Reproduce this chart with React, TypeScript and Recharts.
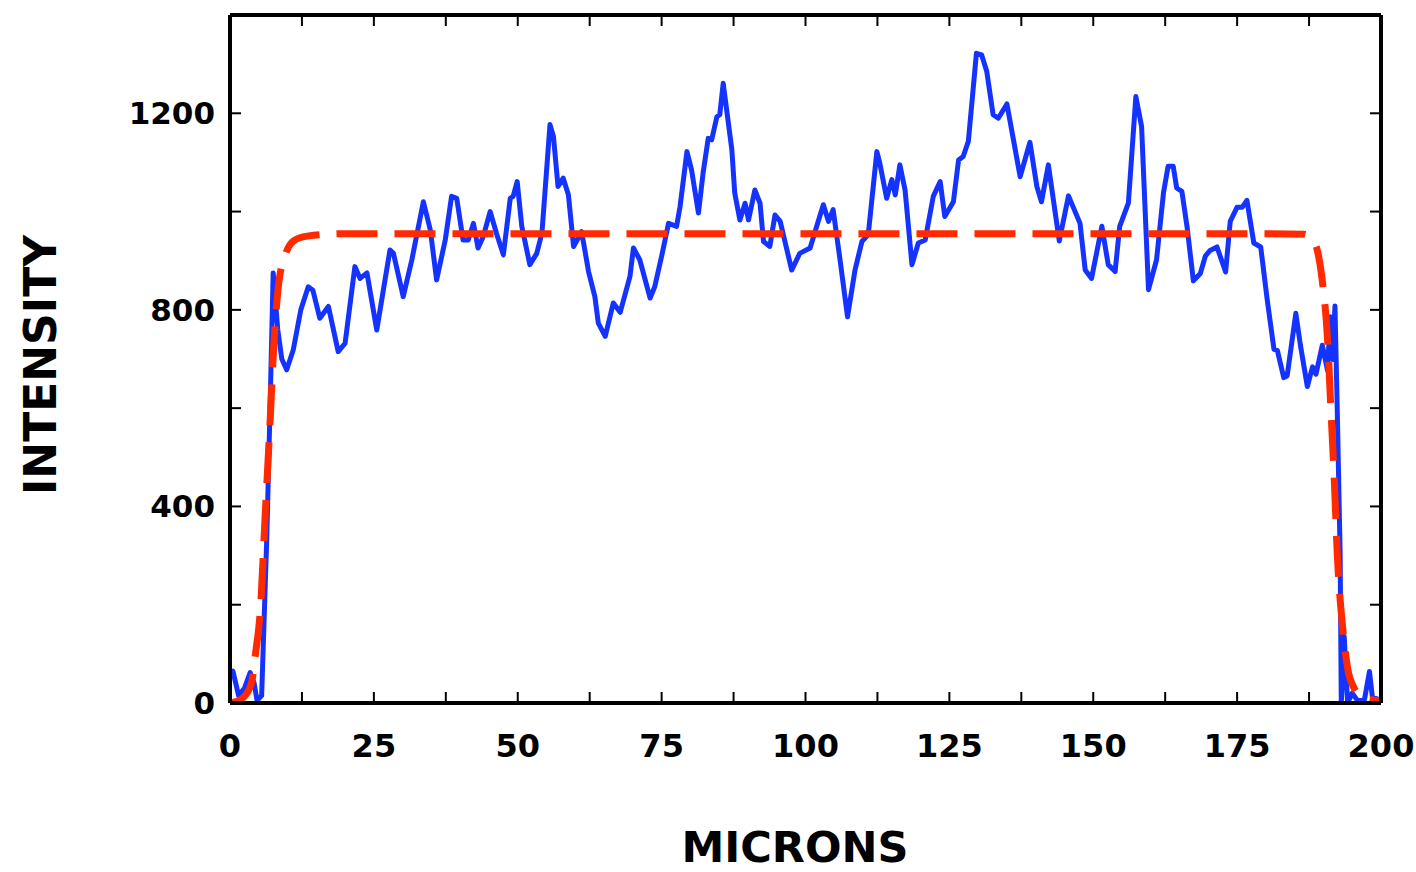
import { LineChart, Line, XAxis, YAxis } from "recharts";

// blue: measured profile (µm, intensity)
const MICRONS = [
  0, 0.5, 1.5, 2.5, 3.5, 4.2, 4.7, 5.5, 6.4, 7.0, 7.5, 8.3, 9.0, 9.85, 11.0, 12.3, 13.6, 14.4, 15.6, 17.1,
  18.8, 20.0, 21.7, 22.6, 23.8, 25.5, 27.8, 28.4, 30.1, 31.6, 33.6, 34.8, 35.9, 37.4, 38.5, 39.4, 40.5, 41.4,
  42.3, 43.1, 44.0, 45.2, 46.3, 47.5, 48.7, 49.2, 49.9, 50.7, 52.1, 53.3, 54.2, 55.6, 56.2, 57.0, 57.9, 58.8,
  59.7, 61.1, 62.3, 63.4, 64.0, 65.2, 66.6, 67.8, 69.5, 70.1, 71.2, 73.0, 73.8, 75.0, 76.2, 77.6, 78.2, 79.4,
  80.2, 81.4, 82.2, 83.1, 83.7, 84.6, 85.1, 85.7, 86.3, 87.2, 87.7, 88.6, 89.5, 90.1, 91.2, 92.1, 92.7, 93.8,
  94.7, 95.6, 97.6, 99.0, 100.8, 102.2, 103.1, 104.0, 104.8, 106.0, 107.3, 108.6, 109.8, 110.9, 112.4, 112.9,
  114.1, 115.0, 115.6, 116.4, 117.3, 118.5, 119.6, 120.8, 122.2, 123.4, 124.2, 125.7, 126.6, 127.4, 128.3,
  129.7, 130.6, 131.5, 132.6, 133.5, 135.0, 137.3, 139.0, 140.2, 141.0, 142.2, 144.1, 145.7, 147.7, 148.6,
  149.7, 151.5, 152.6, 153.8, 154.6, 156.1, 157.4, 158.4, 159.6, 161.0, 162.2, 163.0, 163.9, 164.5, 165.4,
  166.3, 167.4, 168.6, 169.5, 170.3, 171.5, 173.0, 173.8, 175.0, 175.9, 176.7, 177.9, 179.1, 180.2, 181.4,
  182.0, 183.1, 183.7, 185.2, 186.0, 187.2, 188.1, 188.7, 189.8, 190.7, 191.2, 191.6, 192.0, 192.4, 192.9,
  193.1, 193.6, 194.2, 195.0, 195.9, 197.1, 198.0, 198.5, 200.0,
];
const INTENSITY = [
  60, 65, 15, 30, 62, 40, 5, 15, 339, 620, 875, 760, 700, 678, 719, 800, 847, 840, 783, 807,
  715, 732, 888, 864, 875, 759, 922, 915, 827, 902, 1020, 963, 861, 942, 1031, 1027, 942, 942,
  976, 926, 949, 1000, 956, 912, 1027, 1031, 1061, 970, 892, 915, 956, 1177, 1153, 1051, 1068, 1034,
  929, 959, 878, 827, 773, 746, 814, 795, 868, 926, 902, 824, 847, 909, 976, 970, 1010, 1122,
  1085, 997, 1078, 1149, 1146, 1193, 1197, 1261, 1207, 1126, 1038, 983, 1017, 983, 1044, 1017, 939, 929,
  993, 980, 881, 915, 926, 980, 1014, 980, 1004, 902, 786, 881, 939, 953, 1122, 1099,
  1027, 1065, 1034, 1095, 1044, 892, 936, 942, 1031, 1061, 990, 1020, 1105, 1112, 1143,
  1322, 1319, 1285, 1197, 1190, 1219, 1071, 1141, 1051, 1020, 1095, 940, 1032, 976, 881,
  864, 970, 892, 878, 970, 1017, 1234, 1173, 841, 902, 1038, 1092, 1092, 1048, 1041,
  969, 859, 874, 910, 921, 928, 877, 980, 1009, 1009, 1023, 936, 928, 823, 720,
  717, 662, 666, 793, 728, 644, 684, 669, 728, 677, 786, 699, 808, 596, 304,
  0, 136, 0, 20, 5, 5, 64, 12, 5,
];

// red dashed: fitted top-hat profile
const FIT_MICRONS = [
  0, 1.5, 2.4, 3.2, 3.8, 4.4, 5.3, 6.1, 7.0, 7.6, 8.4, 9.6, 11.0, 13.4, 20, 50, 100, 150, 180,
  186.6, 188.1, 189.0, 189.8, 190.7, 191.3, 191.9, 192.4, 193.3, 194.2, 195.3, 196.8, 200,
];
const FIT_INTENSITY = [
  0, 5, 12, 25, 44, 97, 194, 379, 581, 726, 847, 911, 940, 950, 955, 955, 955, 955, 955,
  954, 943, 918, 859, 742, 596, 450, 304, 158, 71, 31, 12, 4,
];

const X_TICKS = [0, 12.5, 25, 37.5, 50, 62.5, 75, 87.5, 100, 112.5, 125, 137.5, 150, 162.5, 175, 187.5, 200];
const Y_TICKS = [0, 200, 400, 600, 800, 1000, 1200, 1400];
const X_LABELS = [0, 25, 50, 75, 100, 125, 150, 175, 200];
const Y_LABELS = [0, 400, 800, 1200];

const profile = MICRONS.map((x, i) => ({ x, y: INTENSITY[i] }));
const fit = FIT_MICRONS.map((x, i) => ({ x, y: FIT_INTENSITY[i] }));

const FONT = "'DejaVu Sans', sans-serif";
const TICK_LEN = 11;

function BottomTick({ x, y, payload }: any) {
  const v = payload.value;
  return (
    <g>
      <line x1={x} y1={y} x2={x} y2={y - TICK_LEN} stroke="#000" strokeWidth={2} />
      {X_LABELS.includes(v) && (
        <text x={x} y={y + 43} textAnchor="middle" dominantBaseline="central"
          fontFamily={FONT} fontWeight="bold" fontSize={32} fill="#000">
          {v}
        </text>
      )}
    </g>
  );
}

function TopTick({ x, y }: any) {
  return <line x1={x} y1={y} x2={x} y2={y + TICK_LEN} stroke="#000" strokeWidth={2} />;
}

function LeftTick({ x, y, payload }: any) {
  const v = payload.value;
  return (
    <g>
      <line x1={x} y1={y} x2={x + TICK_LEN} y2={y} stroke="#000" strokeWidth={2} />
      {Y_LABELS.includes(v) && (
        <text x={x - 15} y={y} textAnchor="end" dominantBaseline="central"
          fontFamily={FONT} fontWeight="bold" fontSize={31} fill="#000">
          {v}
        </text>
      )}
    </g>
  );
}

function RightTick({ x, y }: any) {
  return <line x1={x} y1={y} x2={x - TICK_LEN} y2={y} stroke="#000" strokeWidth={2} />;
}

const axisLine = { stroke: "#000", strokeWidth: 4 };

export default function App() {
  return (
    <div style={{ position: "absolute", left: 0, top: 0, width: 1416, height: 872, background: "#fff" }}>
      <LineChart width={1416} height={872} margin={{ top: 14, right: 34, bottom: 0, left: 0 }}>
        <XAxis xAxisId="b" dataKey="x" type="number" domain={[0, 200]} ticks={X_TICKS}
          height={169} tickSize={0} tickMargin={0} tickLine={false} axisLine={axisLine}
          tick={<BottomTick />} interval={0} allowDataOverflow />
        <XAxis xAxisId="t" dataKey="x" orientation="top" type="number" domain={[0, 200]} ticks={X_TICKS}
          height={1} tickSize={0} tickMargin={0} tickLine={false} axisLine={axisLine}
          tick={<TopTick />} interval={0} allowDataOverflow />
        <YAxis yAxisId="l" type="number" domain={[0, 1400]} ticks={Y_TICKS}
          width={230} tickSize={0} tickMargin={0} tickLine={false} axisLine={axisLine}
          tick={<LeftTick />} interval={0} allowDataOverflow />
        <YAxis yAxisId="r" orientation="right" type="number" domain={[0, 1400]} ticks={Y_TICKS}
          width={1} tickSize={0} tickMargin={0} tickLine={false} axisLine={axisLine}
          tick={<RightTick />} interval={0} allowDataOverflow />
        {/* invisible series so the top/right frame axes get drawn */}
        <Line xAxisId="t" yAxisId="r" data={fit} dataKey="y" stroke="none" dot={false}
          activeDot={false} isAnimationActive={false} legendType="none" />
        <Line xAxisId="b" yAxisId="l" data={profile} dataKey="y" type="linear"
          stroke="#1433ff" strokeWidth={5} strokeLinejoin="round" dot={false} isAnimationActive={false} />
        <Line xAxisId="b" yAxisId="l" data={fit} dataKey="y" type="monotone"
          stroke="#ff2a00" strokeWidth={7} strokeDasharray="41 17" dot={false} isAnimationActive={false} />
      </LineChart>
      <div style={{
        position: "absolute", left: 41, top: 365, transform: "translate(-50%, -50%) rotate(-90deg)",
        fontFamily: FONT, fontWeight: "bold", fontSize: 44, whiteSpace: "nowrap", lineHeight: 1,
      }}>
        INTENSITY
      </div>
      <div style={{
        position: "absolute", left: 795, top: 848, transform: "translate(-50%, -50%)",
        fontFamily: FONT, fontWeight: "bold", fontSize: 43, whiteSpace: "nowrap", lineHeight: 1.1,
      }}>
        MICRONS
      </div>
    </div>
  );
}
